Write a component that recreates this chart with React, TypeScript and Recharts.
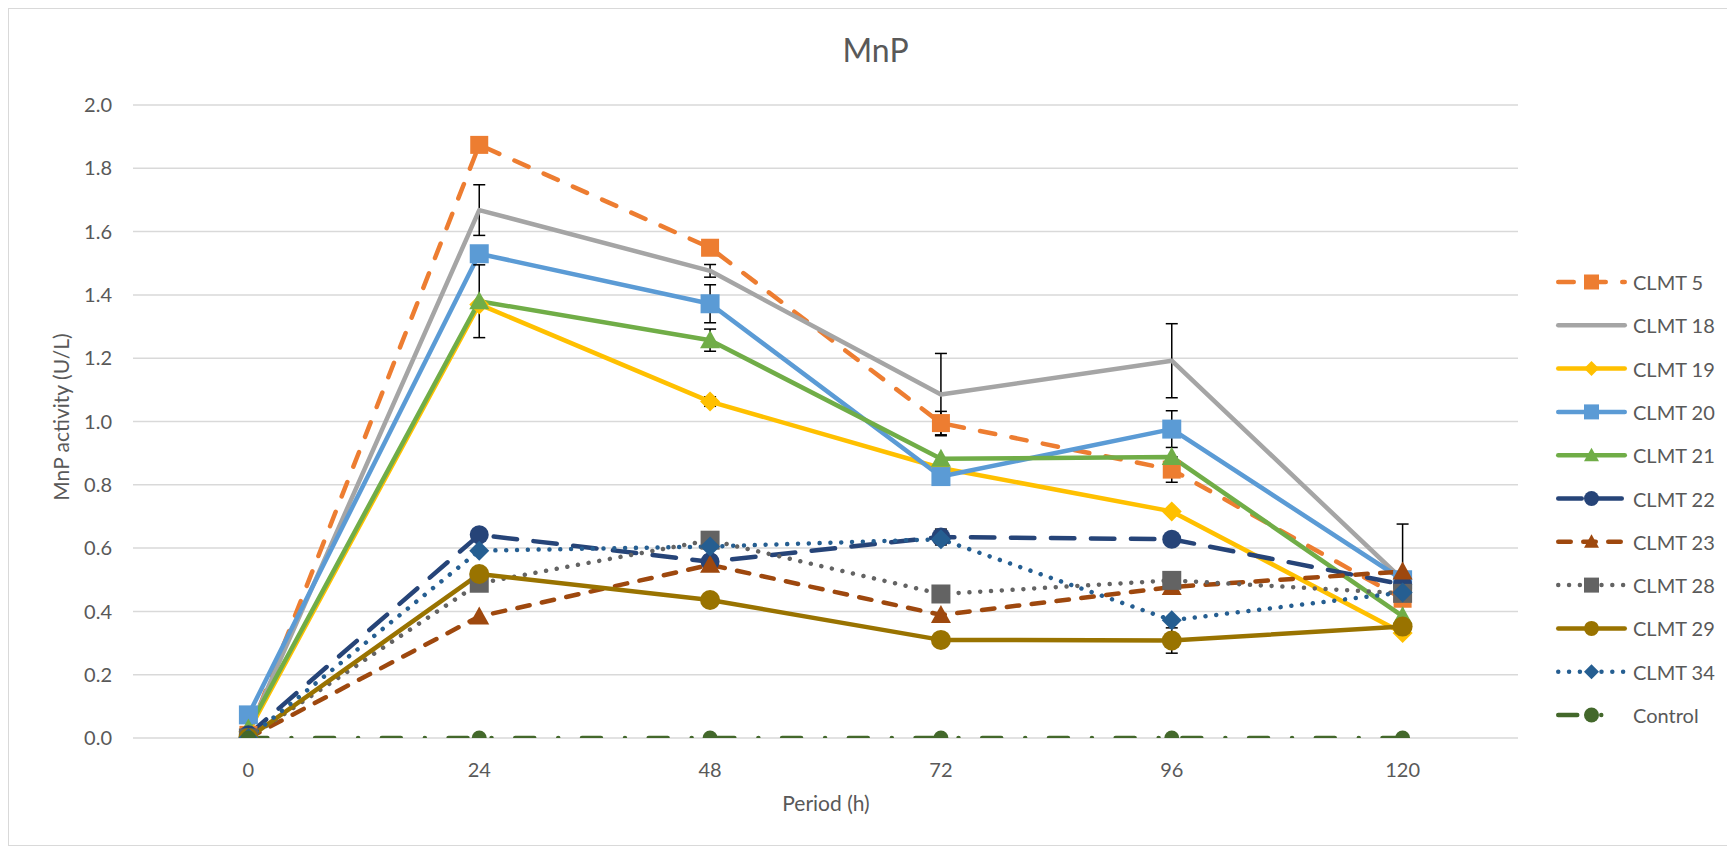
import React from 'react';
import { LineChart, Line, XAxis, YAxis, CartesianGrid, Legend, ErrorBar } from 'recharts';

// ---------- data ----------
const periods = ['0', '24', '48', '72', '96', '120'];
const yTicks = [0, 0.2, 0.4, 0.6, 0.8, 1.0, 1.2, 1.4, 1.6, 1.8, 2.0];

const clmt5 = [0.01, 1.874, 1.549, 0.995, 0.848, 0.44];
const clmt18 = [0.02, 1.668, 1.476, 1.085, 1.192, 0.5];
const clmt19 = [0.02, 1.37, 1.063, 0.853, 0.716, 0.332];
const clmt20 = [0.073, 1.53, 1.372, 0.826, 0.976, 0.5];
const clmt21 = [0.03, 1.38, 1.257, 0.882, 0.888, 0.385];
const clmt22 = [0.01, 0.642, 0.557, 0.635, 0.628, 0.485];
const clmt23 = [0.0, 0.384, 0.547, 0.389, 0.477, 0.526];
const clmt28 = [0.0, 0.489, 0.625, 0.455, 0.498, 0.457];
const clmt29 = [0.0, 0.518, 0.436, 0.31, 0.308, 0.352];
const clmt34 = [0.0, 0.592, 0.605, 0.628, 0.372, 0.46];
const control = [0, 0, 0, 0, 0, 0];

// error bars (± values, 0 = none)
const err5 = [0, 0, 0, 0.037, 0.04, 0];
const err18 = [0, 0.08, 0.02, 0.13, 0.117, 0];
const err19 = [0, 0, 0.015, 0, 0, 0];
const err20 = [0, 0, 0.06, 0, 0.058, 0];
const err21 = [0, 0.115, 0.035, 0, 0, 0];
const err22 = [0, 0, 0.02, 0.025, 0, 0];
const err23 = [0, 0, 0, 0, 0, 0.15];
const err29 = [0, 0, 0, 0, 0.04, 0];

const seriesNames = ['CLMT 5', 'CLMT 18', 'CLMT 19', 'CLMT 20', 'CLMT 21', 'CLMT 22', 'CLMT 23', 'CLMT 28', 'CLMT 29', 'CLMT 34', 'Control'];
const seriesValues = [clmt5, clmt18, clmt19, clmt20, clmt21, clmt22, clmt23, clmt28, clmt29, clmt34, control];
const seriesErrors = [err5, err18, err19, err20, err21, err22, err23, null, err29, null, null];

// ---------- styles ----------
type Shape = 'square' | 'diamond' | 'triangle' | 'circle' | 'none';
const seriesStyles: { color: string; dash?: string; shape: Shape; size: number }[] = [
  { color: '#ED7D31', dash: '15.5 16.5', shape: 'square', size: 18 },
  { color: '#A5A5A5', shape: 'none', size: 0 },
  { color: '#FFC000', shape: 'diamond', size: 20 },
  { color: '#5B9BD5', shape: 'square', size: 19 },
  { color: '#70AD47', shape: 'triangle', size: 20 },
  { color: '#264478', dash: '23.5 16.5', shape: 'circle', size: 19 },
  { color: '#9E480E', dash: '12.5 12.5', shape: 'triangle', size: 20 },
  { color: '#636363', dash: '0.01 10.8', shape: 'square', size: 19 },
  { color: '#997300', shape: 'circle', size: 20 },
  { color: '#255E91', dash: '0.01 10.8', shape: 'diamond', size: 20 },
  { color: '#43682B', dash: '19 24 0.01 23.7', shape: 'circle', size: 15 },
];

const FONT = 'Lato, "Open Sans", sans-serif';
const TEXT = '#595959';

const data = periods.map((p, i) => {
  const row: Record<string, any> = { period: p };
  seriesValues.forEach((vals, s) => {
    row[`s${s}`] = vals[i];
    const e = seriesErrors[s];
    if (e && e[i]) row[`e${s}`] = e[i];
  });
  return row;
});

function Marker({ shape, cx, cy, size, color }: { shape: Shape; cx: number; cy: number; size: number; color: string }) {
  const h = size / 2;
  if (shape === 'square') return <rect x={cx - h} y={cy - h} width={size} height={size} fill={color} />;
  if (shape === 'circle') return <circle cx={cx} cy={cy} r={h} fill={color} />;
  if (shape === 'diamond')
    return <polygon points={`${cx},${cy - h} ${cx + h},${cy} ${cx},${cy + h} ${cx - h},${cy}`} fill={color} />;
  if (shape === 'triangle')
    return <polygon points={`${cx},${cy - h} ${cx + h},${cy + h * 0.8} ${cx - h},${cy + h * 0.8}`} fill={color} />;
  return null;
}

const makeDot = (st: (typeof seriesStyles)[number]) => (props: any) => {
  const { cx, cy, index } = props;
  if (cx == null || cy == null) return <g key={`d${index}`} />;
  return (
    <g key={`d${index}`}>
      <Marker shape={st.shape} cx={cx} cy={cy} size={st.size} color={st.color} />
    </g>
  );
};

const renderLegend = () => (
  <svg width={195} height={480} style={{ overflow: 'visible' }}>
    {seriesNames.map((name, i) => {
      const st = seriesStyles[i];
      const cy = 32 + i * 43.3;
      return (
        <g key={name}>
          <line
            x1={9.25}
            x2={75.75}
            y1={cy}
            y2={cy}
            stroke={st.color}
            strokeWidth={4.5}
            strokeLinecap="round"
            strokeDasharray={st.dash}
          />
          <Marker shape={st.shape} cx={42.5} cy={cy} size={Math.min(st.size, 15)} color={st.color} />
          <text x={84} y={cy} dominantBaseline="central" fontSize={20} fontFamily={FONT} fill={TEXT}>
            {name}
          </text>
        </g>
      );
    })}
  </svg>
);

const YTitle = () => (
  <text
    x={51}
    y={408}
    transform="rotate(-90 51 408)"
    textAnchor="middle"
    dominantBaseline="central"
    fontSize={21}
    fontFamily={FONT}
    fill={TEXT}
  >
    MnP activity (U/L)
  </text>
);

const XTitle = () => (
  <text x={817} y={793} textAnchor="middle" dominantBaseline="central" fontSize={21} fontFamily={FONT} fill={TEXT}>
    Period (h)
  </text>
);

export default function App() {
  return (
    <div
      style={{
        position: 'relative',
        width: 1718,
        height: 836,
        border: '1px solid #D9D9D9',
        background: '#fff',
        fontFamily: FONT,
      }}
    >
      <svg width={1718} height={836} style={{ position: 'absolute', left: 0, top: 0, pointerEvents: 'none' }}>
        <text x={866.5} y={52.7} textAnchor="middle" fontSize={32} fontFamily={FONT} fill={TEXT}>
          MnP
        </text>
      </svg>
      <LineChart width={1718} height={836} data={data} margin={{ top: 96, right: 209, bottom: 32, left: 0 }}>
        <CartesianGrid vertical={false} stroke="#D9D9D9" strokeWidth={1.5} />
        <XAxis
          dataKey="period"
          padding={{ left: 115.4, right: 115.4 }}
          axisLine={false}
          tickLine={false}
          tickSize={0}
          tickMargin={25}
          height={75}
          tick={{ fill: TEXT, fontSize: 20, fontFamily: FONT }}
          label={<XTitle />}
        />
        <YAxis
          type="number"
          domain={[0, 2]}
          ticks={yTicks}
          allowDataOverflow
          width={124}
          axisLine={false}
          tickLine={false}
          tickSize={0}
          tickMargin={21}
          tickFormatter={(v: number) => v.toFixed(1)}
          tick={{ fill: TEXT, fontSize: 20, fontFamily: FONT }}
          label={<YTitle />}
        />
        <Legend
          layout="horizontal"
          verticalAlign="middle"
          align="center"
          content={renderLegend}
          wrapperStyle={{ position: 'absolute', left: 1540, top: 241, width: 195, height: 480 }}
        />
        {seriesNames.map((name, s) => {
          const st = seriesStyles[s];
          return (
            <Line
              key={name}
              name={name}
              dataKey={`s${s}`}
              type="linear"
              stroke={st.color}
              strokeWidth={4.5}
              strokeDasharray={st.dash}
              strokeLinecap="round"
              strokeLinejoin="round"
              dot={st.shape === 'none' ? false : makeDot(st)}
              activeDot={false}
              isAnimationActive={false}
            >
              {seriesErrors[s] ? (
                <ErrorBar dataKey={`e${s}`} direction="y" width={6} stroke="#000" strokeWidth={1.5} />
              ) : null}
            </Line>
          );
        })}
      </LineChart>
    </div>
  );
}
